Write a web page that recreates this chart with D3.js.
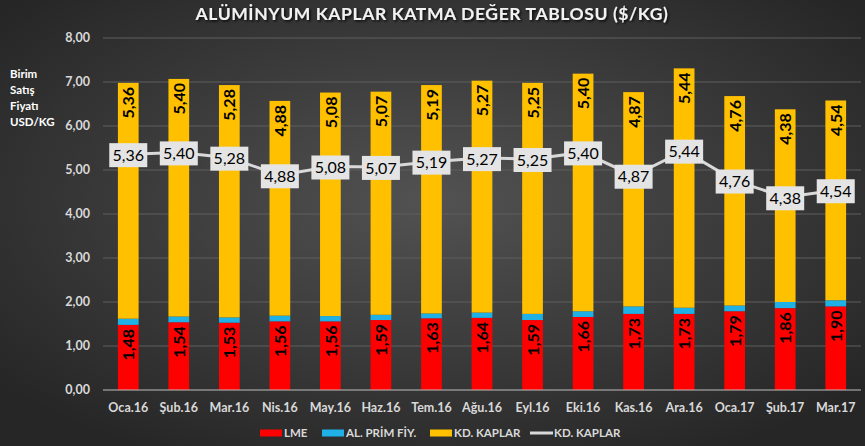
<!DOCTYPE html>
<html>
<head>
<meta charset="utf-8">
<script src="https://d3js.org/d3.v7.min.js"></script>
<style>
  body { margin: 0; background: #333; }
  svg { display: block; font-family: Lato, "Open Sans", sans-serif; }
</style>
</head>
<body>
<svg id="mainsvg"></svg>
<script>
// data
const months = ["Oca.16","Şub.16","Mar.16","Nis.16","May.16","Haz.16","Tem.16","Ağu.16","Eyl.16","Eki.16","Kas.16","Ara.16","Oca.17","Şub.17","Mar.17"];
const lme = [1.48,1.54,1.53,1.56,1.56,1.59,1.63,1.64,1.59,1.66,1.73,1.73,1.79,1.86,1.90];
const alPrim = [0.14,0.13,0.12,0.13,0.12,0.12,0.11,0.12,0.14,0.13,0.17,0.14,0.13,0.14,0.14];
const kdKaplar = [5.36,5.40,5.28,4.88,5.08,5.07,5.19,5.27,5.25,5.40,4.87,5.44,4.76,4.38,4.54];
const yTicks = [0,1,2,3,4,5,6,7,8];

const width = 865, height = 446;
const margin = { top: 38, right: 4, bottom: 56, left: 103 };

const locale = d3.formatLocale({ decimal: ",", thousands: ".", grouping: [3], currency: ["", "$"] });
const fmt = locale.format(".2f");

const svg = d3.select("#mainsvg")
    .attr("width", width)
    .attr("height", height)
    .attr("viewBox", [0, 0, width, height]);

// background
const defs = svg.append("defs");
const grad = defs.append("radialGradient").attr("id", "bg")
    .attr("cx", "50%").attr("cy", "45%").attr("r", "65%");
grad.append("stop").attr("offset", "0%").attr("stop-color", "#525252");
grad.append("stop").attr("offset", "100%").attr("stop-color", "#262626");
svg.append("rect").attr("width", width).attr("height", height).attr("fill", "url(#bg)");

const shadow = defs.append("filter").attr("id", "shadow");
shadow.append("feDropShadow").attr("dx", 1.5).attr("dy", 1.5).attr("stdDeviation", 1)
    .attr("flood-color", "#000").attr("flood-opacity", 0.8);

// scales
const x = d3.scaleBand()
    .domain(months)
    .range([margin.left, width - margin.right])
    .paddingInner(0.59)
    .paddingOuter(0.295);

const y = d3.scaleLinear()
    .domain([0, 8])
    .range([height - margin.bottom, margin.top]);

// grid
svg.append("g")
    .selectAll("line")
    .data(yTicks.slice(1))
    .join("line")
    .attr("x1", margin.left).attr("x2", width - margin.right)
    .attr("y1", d => y(d)).attr("y2", d => y(d))
    .attr("stroke", "#5e5e5e").attr("stroke-width", 1);

// y axis labels
svg.append("g")
    .selectAll("text")
    .data(yTicks)
    .join("text")
    .attr("x", 90).attr("y", d => y(d))
    .attr("dy", "0.35em")
    .attr("text-anchor", "end")
    .attr("fill", "#d9d9d9")
    .style("font", "bold 12.5px Lato, sans-serif")
    .text(d => fmt(d));

// y axis title
svg.append("text")
    .attr("x", 10).attr("y", 78)
    .attr("fill", "#ffffff")
    .style("font", "bold 11.5px Lato, sans-serif")
    .selectAll("tspan")
    .data(["Birim", "Satış", "Fiyatı", "USD/KG"])
    .join("tspan")
    .attr("x", 10)
    .attr("dy", (d, i) => i === 0 ? 0 : 16)
    .text(d => d);

// stacked bars
const rows = months.map((m, i) => ({ month: m, lme: lme[i], prim: alPrim[i], kd: kdKaplar[i] }));
const keys = ["lme", "prim", "kd"];
const colors = { lme: "#ff0000", prim: "#1fb0e6", kd: "#ffc000" };
const series = d3.stack().keys(keys)(rows);

svg.append("g")
    .selectAll("g")
    .data(series)
    .join("g")
    .attr("fill", d => colors[d.key])
    .selectAll("rect")
    .data(d => d)
    .join("rect")
    .attr("x", d => x(d.data.month))
    .attr("width", x.bandwidth())
    .attr("y", d => y(d[1]))
    .attr("height", d => y(d[0]) - y(d[1]));

// bar labels (lme and kd), rotated, inside end
const labelSeries = series.filter(s => s.key !== "prim");
svg.append("g")
    .selectAll("g")
    .data(labelSeries)
    .join("g")
    .selectAll("text")
    .data(d => d.map(v => ({ v, key: d.key })))
    .join("text")
    .attr("transform", d => `translate(${x(d.v.data.month) + x.bandwidth() / 2 + 0.5},${y(d.v[1]) + 4}) rotate(-90)`)
    .attr("text-anchor", "end")
    .attr("dy", "0.35em")
    .attr("fill", "#000")
    .style("font", "bold 16px Lato, sans-serif")
    .text(d => fmt(d.v.data[d.key]));

// x axis line
svg.append("line")
    .attr("x1", margin.left).attr("x2", width - margin.right)
    .attr("y1", y(0)).attr("y2", y(0))
    .attr("stroke", "#bfbfbf").attr("stroke-width", 1);

// x labels
svg.append("g")
    .selectAll("text")
    .data(months)
    .join("text")
    .attr("x", d => x(d) + x.bandwidth() / 2)
    .attr("y", 408)
    .attr("dy", "0.35em")
    .attr("text-anchor", "middle")
    .attr("fill", "#d9d9d9")
    .style("font", "bold 12.5px Lato, sans-serif")
    .text(d => d);

// line
const line = d3.line()
    .x((d, i) => x(months[i]) + x.bandwidth() / 2)
    .y(d => y(d));

svg.append("path")
    .datum(kdKaplar)
    .attr("fill", "none")
    .attr("stroke", "#d9d9d9")
    .attr("stroke-width", 3)
    .attr("d", line);

// line labels
const lbl = svg.append("g")
    .selectAll("g")
    .data(kdKaplar)
    .join("g")
    .attr("transform", (d, i) => `translate(${x(months[i]) + x.bandwidth() / 2},${y(d) + 1})`);

lbl.append("rect")
    .attr("x", -19).attr("y", -12)
    .attr("width", 38).attr("height", 24)
    .attr("fill", "#e4e4e4");

lbl.append("text")
    .attr("text-anchor", "middle")
    .attr("dy", "0.36em")
    .attr("fill", "#000")
    .style("font", "16px Lato, sans-serif")
    .text(d => fmt(d));

// title
svg.append("text")
    .attr("x", 432).attr("y", 14)
    .attr("dy", "0.35em")
    .attr("text-anchor", "middle")
    .attr("fill", "#f2f2f2")
    .attr("filter", "url(#shadow)")
    .style("font", "bold 17.5px Lato, sans-serif")
    .style("letter-spacing", "0.6px")
    .text("ALÜMİNYUM KAPLAR KATMA DEĞER TABLOSU ($/KG)");

// legend
const legendItems = [
    { name: "LME", color: colors.lme, type: "rect", x: 260 },
    { name: "AL. PRİM FİY.", color: colors.prim, type: "rect", x: 322 },
    { name: "KD. KAPLAR", color: colors.kd, type: "rect", x: 430 },
    { name: "KD. KAPLAR", color: "#d9d9d9", type: "line", x: 530 }
];
const leg = svg.append("g")
    .selectAll("g")
    .data(legendItems)
    .join("g")
    .attr("transform", d => `translate(${d.x},433)`);

leg.filter(d => d.type === "rect").append("rect")
    .attr("x", 0).attr("y", -3.5).attr("width", 22).attr("height", 7)
    .attr("fill", d => d.color);
leg.filter(d => d.type === "line").append("line")
    .attr("x1", 0).attr("x2", 23).attr("y1", 0).attr("y2", 0)
    .attr("stroke", d => d.color).attr("stroke-width", 3);

leg.append("text")
    .attr("x", 24)
    .attr("dy", "0.35em")
    .attr("fill", "#d9d9d9")
    .style("font", "bold 11.5px Lato, sans-serif")
    .text(d => d.name);
</script>
</body>
</html>
